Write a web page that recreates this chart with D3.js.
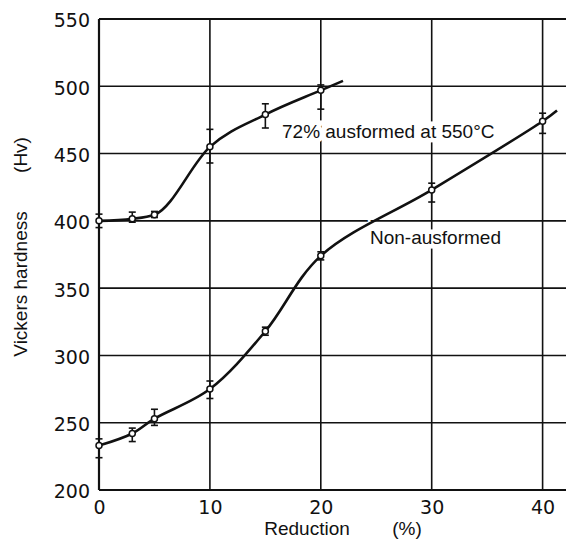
<!DOCTYPE html>
<html>
<head>
<meta charset="utf-8">
<script src="https://cdn.jsdelivr.net/npm/d3@7"></script>
<style>
  body { margin: 0; background: #fff; }
  text { fill: #111; }
</style>
</head>
<body>
<div id="chartDiv"></div>
<script>
;(function() {

	// reduction (%) where hardness was measured
	var ausX  = [0, 3, 5, 10, 15, 20];
	var ausY  = [400, 401.5, 404.5, 455, 479, 497];
	var ausHi = [405, 406.5, 407, 468, 487, 501];
	var ausLo = [395, 399, 402.5, 443, 469, 483];
	var ausEnd = [22, 504];   // where the drawn curve stops

	var nonX  = [0, 3, 5, 10, 15, 20, 30, 40];
	var nonY  = [233, 242, 253, 275, 318, 374, 423, 474];
	var nonHi = [238, 246, 260, 281, 321, 377, 428, 480];
	var nonLo = [224, 236, 248, 268, 315, 371, 414, 465];
	var nonEnd = [41.3, 482];

	var xTicks = [0, 10, 20, 30, 40];
	var yTicks = [200, 250, 300, 350, 400, 450, 500, 550];

	var ausLabel = "72% ausformed at 550\u00b0C";
	var nonLabel = "Non-ausformed";

	var width = 566;
	var height = 547;
	var margin = { top: 19, right: 0, bottom: 57, left: 99 };
	var chart;

	init();

	function init() {
		chart = d3.select("#chartDiv").append("svg")
			.attr("width", width)
			.attr("height", height);

		chart.xScale = d3.scaleLinear().domain([0, 42.5]).range([margin.left, margin.left + 4.25 * 110.9]);
		chart.yScale = d3.scaleLinear().domain([200, 550]).range([height - margin.bottom, margin.top]);

		drawGrid();
		drawLabels();
		drawSeries(ausX, ausY, ausHi, ausLo, ausEnd, d3.curveMonotoneX);
		drawSeries(nonX, nonY, nonHi, nonLo, nonEnd, d3.curveCatmullRom.alpha(0.5));
	}

	function drawGrid() {
		var x = chart.xScale, y = chart.yScale;
		var x0 = x(0), y0 = y(200);

		// horizontal grid lines (incl. top border)
		chart.append("g").selectAll("line")
			.data(yTicks.slice(1))
			.enter().append("line")
				.attr("x1", x0).attr("x2", width)
				.attr("y1", function(d) { return y(d); })
				.attr("y2", function(d) { return y(d); })
				.attr("stroke", "#111")
				.attr("stroke-width", function(d) { return d == 550 ? 2 : 1.6; });

		// vertical grid lines
		chart.append("g").selectAll("line")
			.data(xTicks.slice(1))
			.enter().append("line")
				.attr("x1", function(d) { return x(d); })
				.attr("x2", function(d) { return x(d); })
				.attr("y1", y(550)).attr("y2", y0)
				.attr("stroke", "#111")
				.attr("stroke-width", 1.6);

		// tick labels via axes
		var xAxis = d3.axisBottom(x).tickValues(xTicks).tickSize(0).tickPadding(11);
		var yAxis = d3.axisLeft(y).tickValues(yTicks).tickSize(0).tickPadding(9);

		var gx = chart.append("g")
			.attr("transform", "translate(0," + y0 + ")")
			.call(xAxis);
		var gy = chart.append("g")
			.attr("transform", "translate(" + x0 + ",0)")
			.call(yAxis);

		[gx, gy].forEach(function(g) {
			g.select(".domain").remove();
			g.selectAll("text")
				.style("font-family", "'DejaVu Sans', sans-serif")
				.style("font-size", "19px")
				.attr("fill", "#111");
		});
		gy.selectAll("text").attr("dy", "0.42em");

		// axis lines
		chart.append("line")
			.attr("x1", x0).attr("x2", x0)
			.attr("y1", y(550)).attr("y2", y0)
			.attr("stroke", "#111").attr("stroke-width", 2.2);
		chart.append("line")
			.attr("x1", x0).attr("x2", width)
			.attr("y1", y0).attr("y2", y0)
			.attr("stroke", "#111").attr("stroke-width", 2.2);
	}

	function drawLabels() {
		var font = "'Liberation Sans', Arial, sans-serif";

		chart.append("text")
			.attr("x", 307).attr("y", 535)
			.attr("text-anchor", "middle")
			.style("font-family", font).style("font-size", "19px")
			.text("Reduction");
		chart.append("text")
			.attr("x", 407).attr("y", 535)
			.attr("text-anchor", "middle")
			.style("font-family", font).style("font-size", "19px")
			.text("(%)");

		chart.append("text")
			.attr("transform", "translate(27,284) rotate(-90)")
			.attr("text-anchor", "middle")
			.style("font-family", font).style("font-size", "19px")
			.text("Vickers hardness");
		chart.append("text")
			.attr("transform", "translate(27,155) rotate(-90)")
			.attr("text-anchor", "middle")
			.style("font-family", font).style("font-size", "19px")
			.text("(Hv)");

		// series labels, white halo breaks the grid lines behind them
		[[ausLabel, 282, 138], [nonLabel, 370, 244]].forEach(function(l) {
			chart.append("text")
				.attr("x", l[1]).attr("y", l[2])
				.style("font-family", font).style("font-size", "19px")
				.attr("stroke", "#fff").attr("stroke-width", 9)
				.attr("paint-order", "stroke")
				.text(l[0]);
		});
	}

	function drawSeries(xs, ys, hi, lo, end, curve) {
		var x = chart.xScale, y = chart.yScale;
		var pts = xs.map(function(d, i) { return [d, ys[i]]; });
		pts.push(end);

		var line = d3.line()
			.x(function(d) { return x(d[0]); })
			.y(function(d) { return y(d[1]); })
			.curve(curve);

		chart.append("path")
			.datum(pts)
			.attr("d", line)
			.attr("fill", "none")
			.attr("stroke", "#111")
			.attr("stroke-width", 2.6);

		// error bars
		var bars = chart.append("g").selectAll("g")
			.data(xs)
			.enter().append("g");
		bars.append("line")
			.attr("x1", function(d) { return x(d); })
			.attr("x2", function(d) { return x(d); })
			.attr("y1", function(d, i) { return y(hi[i]); })
			.attr("y2", function(d, i) { return y(lo[i]); })
			.attr("stroke", "#111").attr("stroke-width", 1.6);
		[hi, lo].forEach(function(arr) {
			bars.append("line")
				.attr("x1", function(d) { return x(d) - 3.5; })
				.attr("x2", function(d) { return x(d) + 3.5; })
				.attr("y1", function(d, i) { return y(arr[i]); })
				.attr("y2", function(d, i) { return y(arr[i]); })
				.attr("stroke", "#111").attr("stroke-width", 1.6);
		});
		bars.append("circle")
			.attr("cx", function(d) { return x(d); })
			.attr("cy", function(d, i) { return y(ys[i]); })
			.attr("r", 3)
			.attr("fill", "#fff")
			.attr("stroke", "#111")
			.attr("stroke-width", 1.5);
	}

})();
</script>
</body>
</html>
